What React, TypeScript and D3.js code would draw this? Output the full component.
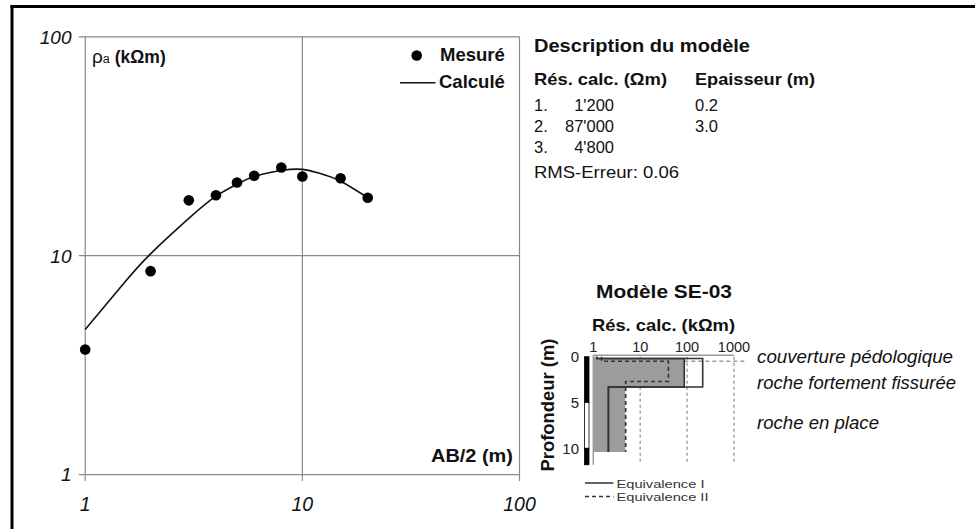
import React from "react";
import * as d3 from "d3";

// ---- Main sounding curve data ----
const measX = [1, 2, 3, 4, 5, 6, 8, 10, 15, 20];
const measY = [3.73, 8.5, 17.9, 18.9, 21.6, 23.2, 25.3, 23.0, 22.6, 18.4];
const calcX = [1, 1.5, 2, 3, 4, 5, 6, 8, 10, 12, 15, 20];
const calcY = [4.6, 7.45, 10.2, 14.8, 18.7, 21.2, 23.0, 24.5, 24.8, 23.8, 21.9, 18.4];
const xTicks = [1, 10, 100];
const yTicks = [1, 10, 100];

// ---- Model description ----
const layerNums = ["1.", "2.", "3."];
const layerRes = ["1'200", "87'000", "4'800"];
const layerThick = ["0.2", "3.0"];
const rmsError = "0.06";

// ---- Inset model (kΩm, m) ----
const rhoTicks = [1, 10, 100, 1000];
const depthTicks = [0, 5, 10];
const depthMax = 11.8;
const layerBottoms = [0.2, 3.3, 10.4];
const bestRho = [1.2, 87, 4.8];
const eqIaRho = [1.2, 215, 2.1];
const eqIbRho = [1.2, 87, 2.1];
const eqIIRho = [1.5, 40, 4.9];
const eqIIBottoms = [0.5, 2.7, 10.4];
const leaderRho = [87, 1900];
const leaderDepth = 0.5;
const scaleBarBreaks = [0, 5, 10, 11.8];
const geoLabels = ["couverture pédologique", "roche fortement fissurée", "roche en place"];

const FONT = "'Liberation Sans', Arial, sans-serif";

export default function App() {
  const x = d3.scaleLog().domain([1, 100]).range([85.2, 519.5]);
  const y = d3.scaleLog().domain([1, 100]).range([474.6, 36.8]);

  const calcData = calcX.map((v, i) => [v, calcY[i]] as [number, number]);
  const line = d3
    .line<[number, number]>()
    .x((d) => x(d[0]))
    .y((d) => y(d[1]))
    .curve(d3.curveNatural);

  const rx = d3.scaleLog().domain([1, 1000]).range([593.3, 734]);
  const dy = d3.scaleLinear().domain([0, 10]).range([356.7, 448.3]);

  const tops = [0, ...layerBottoms.slice(0, -1)];
  const fillPath =
    "M" + rx(1) + "," + dy(0) +
    bestRho
      .map((r, i) => "L" + rx(r) + "," + dy(tops[i]) + "L" + rx(r) + "," + dy(layerBottoms[i]))
      .join("") +
    "L" + rx(1) + "," + dy(layerBottoms[layerBottoms.length - 1]) + "Z";

  const stepPath = (rhos: number[], bottoms: number[]) => {
    let p = "M" + rx(rhos[0]) + "," + dy(0);
    rhos.forEach((r, i) => {
      if (i > 0) p += "H" + rx(r);
      p += "V" + dy(bottoms[i]);
    });
    return p;
  };

  const x0 = x(1), x1 = x(100), y0 = y(1), y1 = y(100);
  const gridColor = "#8a8a8a";

  return (
    <svg
      width={975}
      height={529}
      style={{ position: "absolute", left: 0, top: 0, background: "#fff" }}
      fontFamily={FONT}
    >
      {/* outer frame */}
      <line x1={10.5} x2={975} y1={6.5} y2={6.5} stroke="#000" strokeWidth={3} />
      <line x1={12} x2={12} y1={5} y2={529} stroke="#000" strokeWidth={3} />

      {/* main grid */}
      {xTicks.map((t) => (
        <line key={"gx" + t} x1={x(t)} x2={x(t)} y1={y1} y2={y0 + 6.5} stroke={gridColor} strokeWidth={1.2} />
      ))}
      {yTicks.map((t) => (
        <line key={"gy" + t} x1={x0 - 6.5} x2={x1} y1={y(t)} y2={y(t)} stroke={gridColor} strokeWidth={1.2} />
      ))}
      {yTicks.map((t) => (
        <text key={"ly" + t} x={71.5} y={y(t)} dy="0.36em" textAnchor="end" fontSize={19} fontStyle="italic" fill="#111">
          {t}
        </text>
      ))}
      {xTicks.map((t) => (
        <text key={"lx" + t} x={x(t)} y={510.5} textAnchor="middle" fontSize={19.5} fontStyle="italic" fill="#111">
          {t}
        </text>
      ))}

      {/* calculated curve */}
      <path d={line(calcData) || ""} fill="none" stroke="#111" strokeWidth={1.6} />
      {/* measured points */}
      {measX.map((v, i) => (
        <circle key={"m" + i} cx={x(v)} cy={y(measY[i])} r={5.3} fill="#000" />
      ))}

      {/* axis titles */}
      <text x={92} y={62.5} fontSize={19} fill="#111">
        <tspan>ρ</tspan>
        <tspan fontSize={12.5}>a</tspan>
        <tspan fontSize={17.5} fontWeight="bold" dx={5}>(kΩm)</tspan>
      </text>
      <text x={513} y={461.5} textAnchor="end" fontSize={18} fontWeight="bold" fill="#111" textLength={82} lengthAdjust="spacingAndGlyphs">
        AB/2 (m)
      </text>

      {/* legend */}
      <circle cx={416.7} cy={55.5} r={5.3} fill="#000" />
      <text x={440} y={61} fontSize={18.5} fontWeight="bold" fill="#111">Mesuré</text>
      <line x1={400} x2={435.5} y1={82.7} y2={82.7} stroke="#111" strokeWidth={1.5} />
      <text x={439} y={87.5} fontSize={18.5} fontWeight="bold" fill="#111">Calculé</text>

      {/* model description */}
      <text x={534} y={52} fontSize={17.5} fontWeight="bold" fill="#111" textLength={216} lengthAdjust="spacingAndGlyphs">
        Description du modèle
      </text>
      <text x={534} y={84.5} fontSize={16.5} fontWeight="bold" fill="#111" textLength={133} lengthAdjust="spacingAndGlyphs">
        Rés. calc. (Ωm)
      </text>
      <text x={695} y={84.5} fontSize={16.5} fontWeight="bold" fill="#111" textLength={120} lengthAdjust="spacingAndGlyphs">
        Epaisseur (m)
      </text>
      {layerRes.map((r, i) => (
        <g key={"row" + i}>
          <text x={534} y={111 + i * 21} fontSize={16.5} fill="#111">{layerNums[i]}</text>
          <text x={614} y={111 + i * 21} fontSize={16.5} textAnchor="end" fill="#111">{r}</text>
          {layerThick[i] !== undefined && (
            <text x={695} y={111 + i * 21} fontSize={16.5} fill="#111">{layerThick[i]}</text>
          )}
        </g>
      ))}
      <text x={534} y={178} fontSize={16.5} fill="#111" textLength={145} lengthAdjust="spacingAndGlyphs">RMS-Erreur: {rmsError}</text>

      {/* inset title */}
      <text x={664} y={297.5} textAnchor="middle" fontSize={18.5} fontWeight="bold" fill="#111" textLength={136} lengthAdjust="spacingAndGlyphs">
        Modèle SE-03
      </text>
      <text x={663.5} y={331} textAnchor="middle" fontSize={17} fontWeight="bold" fill="#111" textLength={143} lengthAdjust="spacingAndGlyphs">
        Rés. calc. (kΩm)
      </text>

      {/* inset gridlines */}
      {rhoTicks.slice(1).map((t) => (
        <line key={"ig" + t} x1={rx(t)} x2={rx(t)} y1={dy(0)} y2={dy(depthMax)} stroke="#9a9a9a" strokeWidth={1.4} strokeDasharray="3,3" />
      ))}
      <line x1={rx(leaderRho[0])} x2={rx(leaderRho[1])} y1={dy(leaderDepth)} y2={dy(leaderDepth)} stroke="#9a9a9a" strokeWidth={1.4} strokeDasharray="4,3" />

      {/* best model fill */}
      <path d={fillPath} fill="#9c9c9c" stroke="none" />

      {/* axes */}
      <line x1={rx(1)} x2={rx(1000)} y1={dy(0) - 1.5} y2={dy(0) - 1.5} stroke="#9a9a9a" strokeWidth={1.5} />
      <line x1={rx(1)} x2={rx(1)} y1={dy(0) - 1.5} y2={dy(depthMax)} stroke="#9a9a9a" strokeWidth={1.5} />
      {rhoTicks.map((t) => (
        <text key={"rt" + t} x={rx(t)} y={351.5} textAnchor="middle" fontSize={14.5} fill="#222">{t}</text>
      ))}
      {depthTicks.map((t) => (
        <text key={"dt" + t} x={579} y={dy(t)} dy="0.36em" textAnchor="end" fontSize={15} fill="#222">{t}</text>
      ))}

      {/* equivalence lines */}
      <path d={stepPath(eqIbRho, layerBottoms)} fill="none" stroke="#333" strokeWidth={1.6} />
      <path d={stepPath(eqIaRho, layerBottoms)} fill="none" stroke="#333" strokeWidth={1.6} />
      <path d={stepPath(eqIIRho, eqIIBottoms)} fill="none" stroke="#333" strokeWidth={1.6} strokeDasharray="4,3" />

      {/* scale bar */}
      {scaleBarBreaks.slice(0, -1).map((b, i) => (
        <rect
          key={"sb" + i}
          x={584.5}
          y={dy(b)}
          width={4.5}
          height={dy(scaleBarBreaks[i + 1]) - dy(b)}
          fill={i % 2 === 0 ? "#000" : "#fff"}
          stroke="#000"
          strokeWidth={0.8}
        />
      ))}

      {/* depth axis title */}
      <text
        transform={`translate(554,405) rotate(-90)`}
        textAnchor="middle"
        fontSize={17.5}
        fontWeight="bold"
        fill="#111"
        textLength={133}
        lengthAdjust="spacingAndGlyphs"
      >
        Profondeur (m)
      </text>

      {/* geological labels */}
      <text x={757} y={362.5} fontSize={18} fontStyle="italic" fill="#111" textLength={196} lengthAdjust="spacingAndGlyphs">
        {geoLabels[0]}
      </text>
      <text x={757} y={388.5} fontSize={18} fontStyle="italic" fill="#111" textLength={199} lengthAdjust="spacingAndGlyphs">
        {geoLabels[1]}
      </text>
      <text x={757} y={428.5} fontSize={18} fontStyle="italic" fill="#111" textLength={122} lengthAdjust="spacingAndGlyphs">
        {geoLabels[2]}
      </text>

      {/* inset legend */}
      <line x1={585} x2={613.5} y1={483} y2={483} stroke="#333" strokeWidth={1.5} />
      <text x={616.5} y={487.5} fontSize={11.5} fill="#333" textLength={88} lengthAdjust="spacingAndGlyphs">Equivalence I</text>
      <line x1={585} x2={613.5} y1={496.5} y2={496.5} stroke="#333" strokeWidth={1.5} strokeDasharray="4,3" />
      <text x={616.5} y={501} fontSize={11.5} fill="#333" textLength={92} lengthAdjust="spacingAndGlyphs">Equivalence II</text>
    </svg>
  );
}
